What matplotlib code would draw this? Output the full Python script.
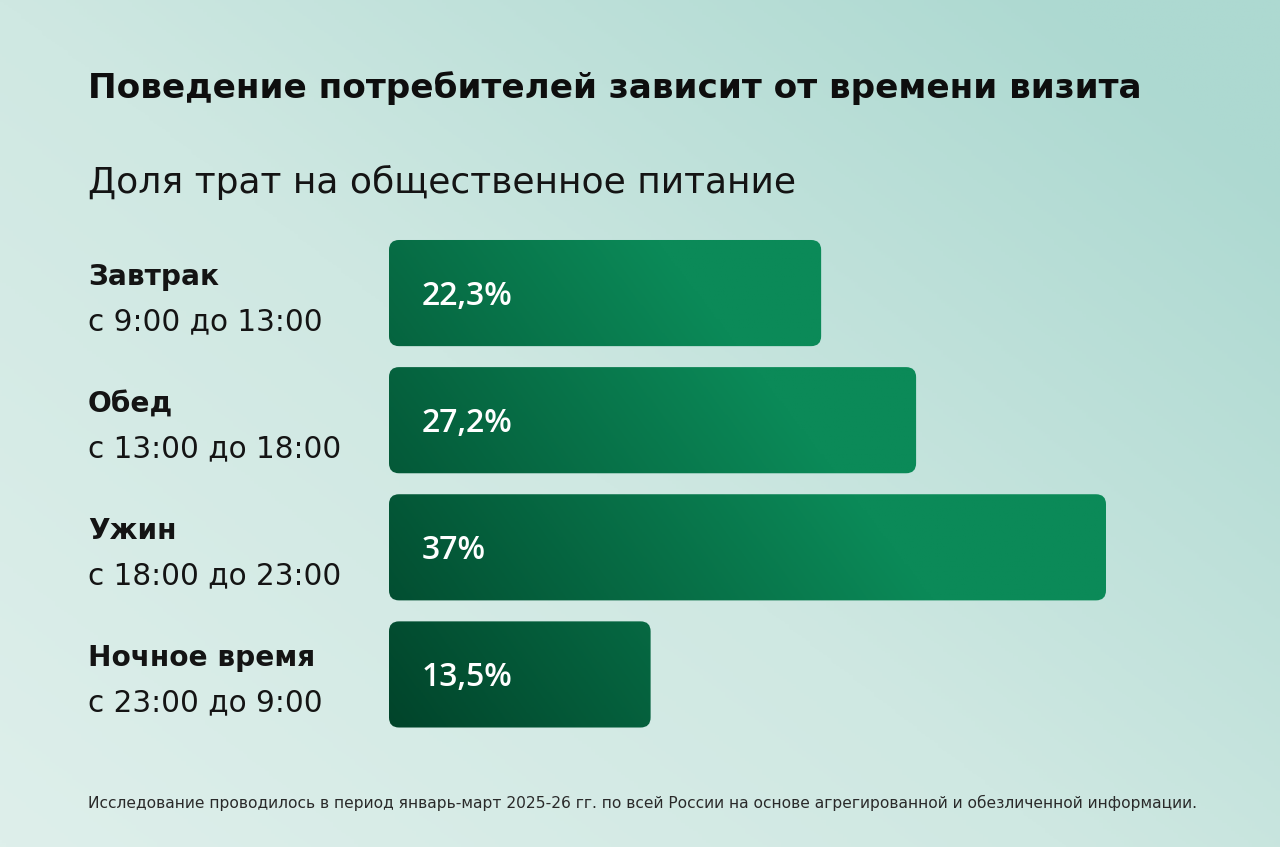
import matplotlib.pyplot as plt
import numpy as np
from matplotlib.patches import FancyBboxPatch
from matplotlib.colors import LinearSegmentedColormap
from matplotlib.transforms import blended_transform_factory

title = "Поведение потребителей зависит от времени визита"
subtitle = "Доля трат на общественное питание"
meals = ["Завтрак", "Обед", "Ужин", "Ночное время"]
hours = ["с 9:00 до 13:00", "с 13:00 до 18:00", "с 18:00 до 23:00", "с 23:00 до 9:00"]
shares = [22.3, 27.2, 37, 13.5]
share_labels = ["22,3%", "27,2%", "37%", "13,5%"]
note = ("Исследование проводилось в период январь-март 2025-26 гг. по всей России "
        "на основе агрегированной и обезличенной информации.")

plt.rcParams['font.family'] = ['DejaVu Sans']

W, H = 1280, 847
fig = plt.figure(figsize=(W / 100, H / 100), dpi=100)
renderer = fig.canvas.get_renderer()


def fit(txt, width_px):
    # shrink/grow font so the text spans the same width as in the picture
    w = txt.get_window_extent(renderer).width
    txt.set_fontsize(txt.get_fontsize() * width_px / w)
    return txt


# background gradient
bg = fig.add_axes([0, 0, 1, 1])
xx, yy = np.meshgrid(np.linspace(0, 1, 300), np.linspace(0, 1, 300))
t = np.clip(0.6 * xx + 0.5 * yy, 0, 1)
bg_cmap = LinearSegmentedColormap.from_list("bg", ["#deefeb", "#cfe8e2", "#add9d1"])
bg.imshow(t, cmap=bg_cmap, extent=[0, 1, 0, 1], origin='lower', aspect='auto', vmin=0, vmax=1)
bg.set_xlim(0, 1)
bg.set_ylim(0, 1)
bg.axis('off')

# bar area
left, right = 389 / W, 1106 / W
top, bottom = 1 - 229.5 / H, 1 - 738 / H
ax = fig.add_axes([left, bottom, right - left, top - bottom])
xmax = max(shares)
n = len(shares)
ax.set_xlim(0, xmax)
ax.set_ylim(n - 0.5, -0.5)

px_x = (right - left) * W / xmax
px_y = (top - bottom) * H / n

gx, gy = np.meshgrid(np.linspace(0, 1, 400), np.linspace(1, 0, 200))
grad = np.clip(1.1 * gx + 0.6 * gy, 0, 1)
bar_cmap = LinearSegmentedColormap.from_list("bar", ["#01432a", "#0b8a58"])

bar_h = 0.835
rad = 10
tr = blended_transform_factory(fig.transFigure, ax.transData)
meal_size = hour_size = None
for i, v in enumerate(shares):
    patch = FancyBboxPatch((0, i - bar_h / 2), v, bar_h,
                           boxstyle="round,pad=0,rounding_size=%f" % (rad / px_x),
                           mutation_aspect=px_x / px_y,
                           facecolor='none', edgecolor='none')
    ax.add_patch(patch)
    im = ax.imshow(grad, cmap=bar_cmap, extent=(0, xmax, n - 0.5, -0.5),
                   origin='upper', aspect='auto', vmin=0, vmax=1)
    im.set_clip_path(patch)

    ax.text(33 / px_x, i + 0.094, share_labels[i], color='white', fontsize=23,
            family=['Open Sans', 'DejaVu Sans'], fontweight='semibold',
            va='baseline', ha='left')
    t2 = ax.text(88 / W, i - 0.063, meals[i], transform=tr, color='#141414', fontsize=20,
                 fontweight='bold', va='baseline', ha='left')
    t3 = ax.text(88 / W, i + 0.291, hours[i], transform=tr, color='#141414', fontsize=20,
                 va='baseline', ha='left')
    if i == 0:
        meal_size = fit(t2, 131).get_fontsize()
        hour_size = fit(t3, 235).get_fontsize()
    else:
        t2.set_fontsize(meal_size)
        t3.set_fontsize(hour_size)

ax.set_xlim(0, xmax)
ax.set_ylim(n - 0.5, -0.5)
ax.axis('off')

fit(fig.text(88 / W, 1 - 98 / H, title, fontsize=27, fontweight='bold', color='#0e0e0e',
             va='baseline', ha='left'), 1052)
fit(fig.text(88 / W, 1 - 193 / H, subtitle, fontsize=28, color='#141414',
             va='baseline', ha='left'), 710)
fit(fig.text(88 / W, 1 - 808 / H, note, fontsize=11.5, color='#2a2a2a',
             va='baseline', ha='left'), 1116)

fig.savefig("out.png", dpi=100)
